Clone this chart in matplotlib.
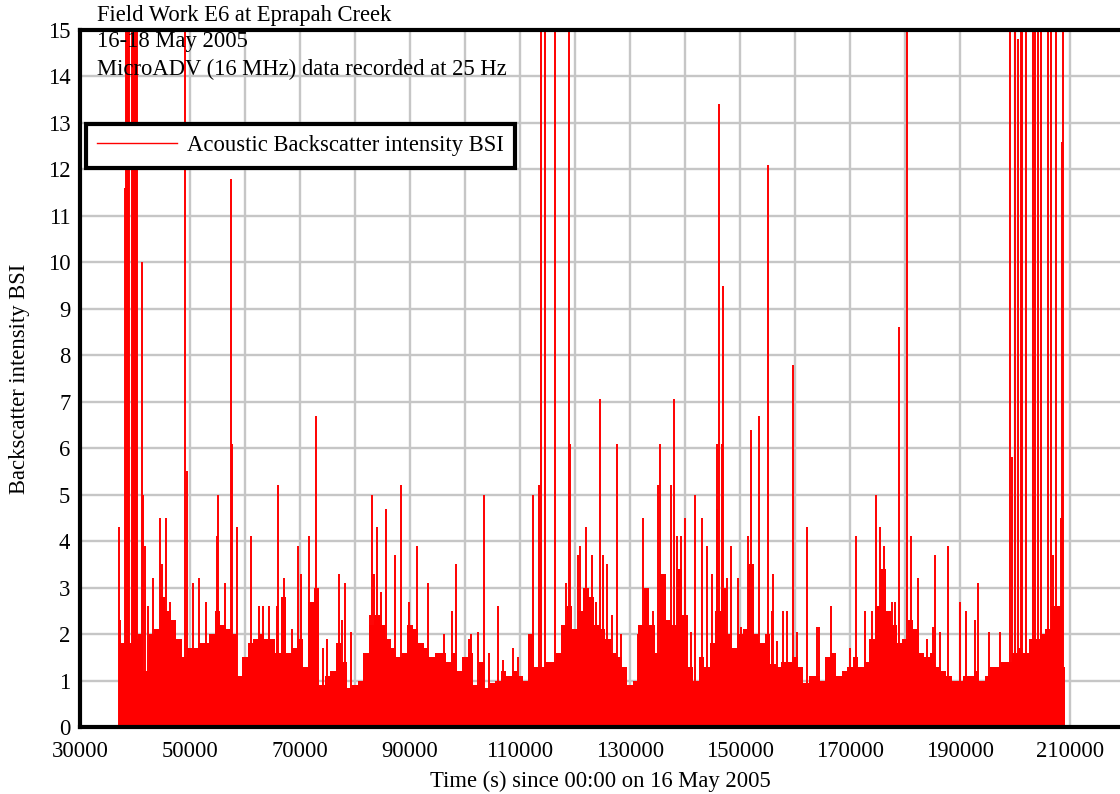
import matplotlib
matplotlib.use("Agg")
import matplotlib.pyplot as plt
from matplotlib.lines import Line2D
from matplotlib.ticker import MultipleLocator
import numpy as np

plt.rcParams['font.family'] = ['Liberation Serif', 'DejaVu Serif']

# Dense part of the BSI record: upper level of the solid band, one value per 1000 s
band_t = np.arange(37000, 210000, 1000)
band_v = [
    1.9, 1.8, 1.8, 1.9, 2.0, 1.2, 2.0, 2.1, 2.8, 2.5,
    2.3, 1.9, 1.5, 1.7, 1.7, 1.8, 1.8, 2.0, 2.5, 2.2,
    2.1, 2.0, 1.1, 1.5, 1.8, 1.9, 2.0, 1.9, 1.9, 1.6,
    2.8, 1.6, 1.7, 1.9, 1.3, 2.7, 3.0, 0.9, 1.1, 1.2,
    1.8, 1.4, 0.85, 0.9, 1.0, 1.6, 2.2, 2.4, 2.2, 1.9,
    1.7, 1.5, 1.6, 2.2, 2.1, 1.8, 1.7, 1.5, 1.6, 1.6,
    1.4, 1.6, 1.2, 1.5, 1.6, 0.9, 1.4, 0.85, 0.95, 1.0,
    1.2, 1.1, 1.2, 1.1, 1.0, 2.0, 1.3, 1.3, 1.4, 1.4,
    1.6, 2.2, 2.6, 2.1, 2.5, 3.0, 2.8, 2.2, 2.1, 1.9,
    1.6, 1.5, 1.3, 0.9, 1.0, 2.2, 3.0, 2.2, 1.6, 3.3,
    2.3, 2.2, 3.4, 2.4, 1.3, 1.0, 1.5, 1.3, 1.8, 2.5,
    3.0, 2.0, 1.7, 2.0, 2.1, 3.5, 2.0, 1.8, 2.0, 1.35,
    1.3, 1.4, 1.4, 1.5, 1.3, 0.95, 1.1, 1.1, 1.0, 1.5,
    1.6, 1.1, 1.2, 1.3, 1.5, 1.3, 1.4, 1.9, 2.6, 3.4,
    2.5, 2.2, 1.8, 1.9, 2.3, 2.1, 1.6, 1.5, 1.6, 1.3,
    1.2, 1.1, 1.0, 1.0, 1.1, 1.1, 1.2, 1.0, 1.1, 1.3,
    1.3, 1.4, 1.4, 1.6, 1.7, 1.6, 1.9, 1.9, 2.0, 2.1,
    2.6, 2.6, 1.3,
]

# Individual BSI peaks (time in s, value); values above 15 run off the top of the plot
spike_t = [
    37180, 37360, 38100, 38300, 38500, 38700, 38900, 39400, 39600, 39800,
    40000, 40200, 40400, 41270, 41500, 41800, 42300, 43260, 44580, 44880,
    45600, 46390, 49100, 49520, 50480, 51690, 52890, 54940, 55120, 56320,
    57530, 57710, 58550, 61080, 62520, 63240, 64330, 65850, 66030, 67050,
    68560, 69640, 70240, 71570, 71810, 72890, 74270, 74880, 77100, 77590,
    78190, 79270, 82700, 83180, 83420, 83910, 84690, 85710, 87220, 88300,
    89810, 91310, 93360, 96270, 97650, 98370, 100660, 101080, 102350, 103370,
    104450, 106080, 106860, 108670, 109690, 112280, 113480, 113800, 114510, 116310,
    118300, 118840, 119020, 120530, 120830, 121910, 123120, 123840, 124620, 125040,
    125760, 126760, 127580, 128360, 131510, 132420, 133330, 134240, 135150, 135450,
    137450, 138000, 138490, 139270, 140000, 141090, 141820, 143030, 143940, 144850,
    145760, 145850, 146240, 146650, 146850, 147560, 148360, 149570, 150180, 151520,
    152000, 153510, 155150, 155760, 156060, 156790, 157760, 158480, 159580, 160420,
    162120, 163940, 164420, 166480, 170000, 171090, 172730, 173940, 174730, 175450,
    176180, 177580, 178180, 178970, 180420, 181030, 182300, 183940, 185150, 185450,
    186360, 187880, 190000, 191030, 192730, 193210, 195270, 197270, 199090, 199390,
    200000, 200550, 201100, 201330, 201940, 203330, 203700, 204240, 204730, 206060,
    206550, 206970, 207450, 208360, 208550, 208800,
]
spike_v = [
    4.3, 2.3, 11.6, 16, 16, 16, 16, 16, 16, 16,
    16, 16, 16, 10.0, 5.0, 3.9, 2.6, 3.2, 4.5, 3.5,
    4.5, 2.7, 16, 5.5, 3.1, 3.2, 2.7, 4.1, 5.0, 3.1,
    11.8, 6.1, 4.3, 4.1, 2.6, 2.6, 2.6, 2.6, 5.2, 3.2,
    2.1, 3.9, 3.3, 4.1, 2.7, 6.7, 1.7, 1.9, 3.3, 2.3,
    3.1, 2.05, 2.4, 5.0, 3.3, 4.3, 2.9, 4.7, 3.7, 5.2,
    2.7, 3.9, 3.1, 2.0, 2.5, 3.5, 1.9, 2.0, 2.05, 5.0,
    1.6, 2.6, 1.45, 1.7, 1.5, 5.0, 5.2, 16, 16, 16,
    3.1, 16, 6.1, 3.7, 3.9, 4.3, 3.7, 2.7, 7.05, 3.7,
    3.5, 2.4, 6.1, 2.0, 2.0, 4.5, 2.5, 2.5, 5.2, 6.1,
    5.2, 7.05, 4.1, 4.1, 4.5, 2.05, 5.0, 4.5, 3.9, 3.3,
    4.7, 6.1, 13.4, 6.1, 9.5, 3.2, 3.9, 3.2, 2.15, 4.1,
    6.4, 6.7, 12.1, 2.5, 3.3, 1.85, 2.5, 2.5, 7.8, 2.05,
    4.3, 2.15, 2.15, 2.6, 1.7, 4.1, 2.5, 2.5, 5.0, 4.3,
    3.9, 2.7, 2.7, 8.6, 16, 4.1, 3.2, 1.9, 2.15, 3.7,
    2.05, 3.9, 2.7, 2.5, 2.3, 3.1, 2.05, 2.05, 16, 5.8,
    16, 14.8, 16, 16, 16, 16, 16, 16, 16, 16,
    16, 3.7, 16, 4.5, 12.6, 16,
]

y_ticks = list(range(0, 16))
x_ticks = [30000, 50000, 70000, 90000, 110000, 130000, 150000, 170000, 190000, 210000]

FS = 16.3
RED = '#ff0000'
GRID = '#c6c6c6'

W, H = 1120, 794
fig = plt.figure(figsize=(W / 100, H / 100), dpi=100)
ax = fig.add_axes([80 / W, 67 / H, 1045 / W, 697 / H])

ax.fill_between(band_t, 0, band_v, step='mid', color=RED, linewidth=0, zorder=3)
ax.vlines(spike_t, 0, spike_v, color=RED, linewidth=1.4, zorder=3)

ax.set_xlim(30000, 220000)
ax.set_ylim(0, 15)
ax.set_xticks(x_ticks)
ax.xaxis.set_minor_locator(MultipleLocator(10000))
ax.set_yticks(y_ticks)
ax.grid(True, which='both', axis='x', color=GRID, linewidth=1.7, zorder=0)
ax.grid(True, which='major', axis='y', color=GRID, linewidth=1.7, zorder=0)
ax.set_axisbelow(True)
ax.tick_params(which='both', length=0, labelsize=FS)
ax.tick_params(axis='x', pad=10)
ax.tick_params(axis='y', pad=7)

for side in ['left', 'bottom', 'top', 'right']:
    ax.spines[side].set_linewidth(3.0)
    ax.spines[side].set_color('black')
    ax.spines[side].set_zorder(5)

ax.set_xlabel('Time (s) since 00:00 on 16 May 2005', fontsize=FS)
ax.xaxis.set_label_coords(0.4976, -0.0775)
ax.xaxis.label.set_va('center')
ax.set_ylabel('Backscatter intensity BSI', fontsize=FS)
ax.yaxis.set_label_coords(-0.0575, 0.5)
ax.yaxis.label.set_va('center')

fig.text(97 / W, 1 - 15 / H, 'Field Work E6 at Eprapah Creek', fontsize=FS, va='center', ha='left')
ax.text(97 / W, 1 - 42 / H, '16-18 May 2005', fontsize=FS, va='center', ha='left',
        transform=fig.transFigure, zorder=6)
ax.text(97 / W, 1 - 69 / H, 'MicroADV (16 MHz) data recorded at 25 Hz', fontsize=FS,
        va='center', ha='left', transform=fig.transFigure, zorder=6)

handle = Line2D([], [], color=RED, linewidth=1.0)
leg = ax.legend([handle], ['Acoustic Backscatter intensity BSI'], loc='upper left',
                bbox_to_anchor=(86 / W, 1 - 124 / H), bbox_transform=fig.transFigure,
                fontsize=FS, frameon=True, fancybox=False, framealpha=1,
                edgecolor='black', borderpad=0.5, handlelength=3.5,
                handletextpad=0.45, borderaxespad=0)
leg.get_frame().set_linewidth(3.0)
leg.set_zorder(7)

fig.savefig('out.png', dpi=100)
